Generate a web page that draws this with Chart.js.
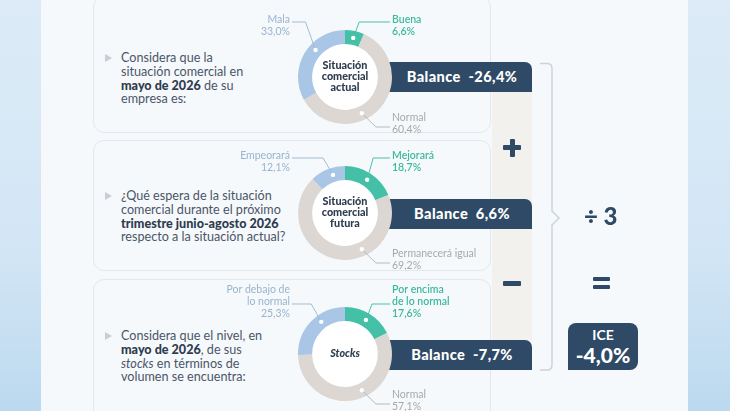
<!DOCTYPE html>
<html>
<head>
<meta charset="utf-8">
<script src="https://cdn.jsdelivr.net/npm/chart.js@4/dist/chart.umd.min.js"></script>
<style>
  html, body { margin: 0; padding: 0; }
  body { width: 730px; height: 411px; overflow: hidden; position: relative; background: #f5f9fc; font-family: 'Lato', sans-serif; }
  .side { position: absolute; top: 0; height: 411px; background: linear-gradient(180deg, #dcebf7 0%, #d3e6f5 60%, #bcd9ef 100%); }
  .card { position: absolute; left: 93px; width: 398px; border: 1px solid #e2e8ee; border-radius: 11px; background: #f6f9fc; box-sizing: border-box; }
  .strip { position: absolute; left: 492px; top: 91px; width: 40px; height: 249px; background: #f3f1ee; }
  .q { position: absolute; left: 121px; font-size: 12.6px; line-height: 13.8px; color: #4a5667; }
  .q b { color: #2f3c4e; font-weight: 900; }
  .tri { position: absolute; left: 105px; width: 0; height: 0; border-left: 7px solid #c9ced4; border-top: 4px solid transparent; border-bottom: 4px solid transparent; }
  .bal { position: absolute; left: 386px; width: 146px; height: 30px; background: #2e4a66; border-radius: 0 7px 0 0; color: #fff; font-weight: 900; font-size: 14.6px; line-height: 30px; text-align: center; padding-left: 6px; box-sizing: border-box; letter-spacing: 0.4px; white-space: pre; }
  .chart { position: absolute; left: 195px; width: 300px; height: 134px; }
  .bar { position: absolute; background: #2e4a66; border-radius: 1px; }
  .op { position: absolute; color: #2e4a66; font-weight: 900; }
  .ice { position: absolute; left: 568px; top: 323px; width: 70px; height: 47px; background: #2e4a66; border-radius: 8px 8px 8px 0; color: #fff; text-align: center; }
</style>
</head>
<body>
  <div class="side" style="left:0;width:41px"></div>
  <div class="side" style="left:688px;width:42px"></div>

  <div class="card" style="top:-4px;height:137px"></div>
  <div class="card" style="top:140px;height:131px"></div>
  <div class="card" style="top:279px;height:145px"></div>
  <div class="strip"></div>

  <div class="tri" style="top:54px"></div>
  <div class="q" style="top:51px">Considera que la<br>situación comercial en<br><b>mayo de 2026</b> de su<br>empresa es:</div>
  <div class="tri" style="top:192px"></div>
  <div class="q" style="top:189px">¿Qué espera de la situación<br>comercial durante el próximo<br><b>trimestre junio-agosto 2026</b><br>respecto a la situación actual?</div>
  <div class="tri" style="top:332px"></div>
  <div class="q" style="top:329px">Considera que el nivel, en<br><b>mayo de 2026</b>, de sus<br><i>stocks</i> en términos de<br>volumen se encuentra:</div>

  <div class="bal" id="bal0" style="top:62px"></div>
  <div class="bal" id="bal1" style="top:199px"></div>
  <div class="bal" id="bal2" style="top:340px"></div>

  <div class="chart" style="top:0px"><canvas id="c0"></canvas></div>
  <div class="chart" style="top:136px"><canvas id="c1"></canvas></div>
  <div class="chart" style="top:277px"><canvas id="c2"></canvas></div>

  <!-- plus / minus -->
  <div class="bar" style="left:503px;top:145px;width:18px;height:5px"></div>
  <div class="bar" style="left:509.5px;top:138.5px;width:5px;height:18px"></div>
  <div class="bar" style="left:503px;top:281px;width:18px;height:5px"></div>

  <svg style="position:absolute;left:0;top:0" width="730" height="411">
    <path d="M540 63.5 L547 63.5 Q552 63.5 552 68.5 L552 211 L559 218 L552 225 L552 365 Q552 370 547 370 L540 370" fill="none" stroke="#cdd3d9" stroke-width="1.5"/>
  </svg>

  <div class="op" style="left:584px;top:202px;font-size:24px;line-height:28px">÷ 3</div>
  <div class="bar" style="left:593px;top:277px;width:17px;height:4px"></div>
  <div class="bar" style="left:593px;top:285px;width:17px;height:4px"></div>

  <div class="ice">
    <div style="font-size:14px;font-weight:700;margin-top:4px;line-height:16px">ICE</div>
    <div id="iceVal" style="font-size:21px;font-weight:900;line-height:24px"></div>
  </div>

<script>
// DATA
const actualLabels = ['Buena', 'Normal', 'Mala'];
const actualValues = [6.6, 60.4, 33.0];
const futuraLabels = ['Mejorará', 'Permanecerá igual', 'Empeorará'];
const futuraValues = [18.7, 69.2, 12.1];
const stocksLabels = [['Por encima', 'de lo normal'], 'Normal', ['Por debajo de', 'lo normal']];
const stocksValues = [17.6, 57.1, 25.3];
const centerTexts = [['Situación', 'comercial', 'actual'], ['Situación', 'comercial', 'futura'], ['Stocks']];
const balances = [-26.4, 6.6, -7.7];
const iceValue = -4.0;

const segColors = ['#43c0a5', '#dcd7d3', '#a9c6e6'];
const textColors = ['#3cb99d', '#a8a8a8', '#98b3cf'];
const lineColors = ['#4cc1a8', '#b9b9b9', '#a3bbd3'];
const sides = ['tr', 'br', 'tl'];

function fmt(v) { return v.toFixed(1).replace('.', ',') + '%'; }

balances.forEach(function(b, i) {
  document.getElementById('bal' + i).textContent = 'Balance  ' + fmt(b);
});
document.getElementById('iceVal').textContent = fmt(iceValue);

const donutDeco = {
  id: 'donutDeco',
  beforeDatasetsDraw(chart) {
    const arc = chart.getDatasetMeta(0).data[0];
    const ctx = chart.ctx;
    ctx.save();
    ctx.fillStyle = '#ffffff';
    ctx.beginPath();
    ctx.arc(arc.x, arc.y, arc.innerRadius, 0, Math.PI * 2);
    ctx.fill();
    ctx.restore();
  },
  afterDatasetsDraw(chart, args, opts) {
    const ctx = chart.ctx;
    const meta = chart.getDatasetMeta(0);
    const values = chart.data.datasets[0].data;
    const labels = chart.data.labels;
    const lh = 12;
    ctx.save();
    meta.data.forEach(function(arc, i) {
      const p = arc.getProps(['x', 'y', 'startAngle', 'endAngle', 'innerRadius', 'outerRadius']);
      const side = sides[i];
      let a = (p.startAngle + p.endAngle) / 2;
      if (side === 'br') a = Math.min(Math.max(65 * Math.PI / 180, p.startAngle + 0.15), p.endAngle - 0.15);
      if (side === 'tl') a = Math.max(a, p.startAngle + (p.endAngle - p.startAngle) * 0.6);
      const r = (p.innerRadius + p.outerRadius) / 2;
      const dx = p.x + r * Math.cos(a);
      const dy = p.y + r * Math.sin(a);
      const lines = [].concat(labels[i], fmt(values[i]));
      let ys = [], ex, ey, tx, endX;
      if (side === 'br') {
        lines.forEach(function(l, k) { ys.push(p.y + 41 + k * lh); });
        ex = dx + 14; ey = p.y + 50; tx = p.x + 47; endX = p.x + 45;
      } else {
        const last = p.y + opts.topOffset;
        lines.forEach(function(l, k) { ys.push(last - (lines.length - 1 - k) * lh); });
        ey = last - 10;
        if (side === 'tr') { ex = dx + 6; tx = p.x + 47; endX = p.x + 45; }
        else { ex = dx - 10; tx = p.x - 55; endX = p.x - 53; }
      }
      // leader line
      ctx.strokeStyle = lineColors[i];
      ctx.lineWidth = 1;
      ctx.beginPath();
      ctx.moveTo(dx, dy);
      ctx.lineTo(ex, ey);
      ctx.lineTo(endX, ey);
      ctx.stroke();
      // dot
      ctx.fillStyle = '#ffffff';
      ctx.beginPath();
      ctx.arc(dx, dy, 2.2, 0, Math.PI * 2);
      ctx.fill();
      // label
      ctx.fillStyle = textColors[i];
      ctx.font = (i === 0 ? '600 ' : '400 ') + '10.5px Lato';
      ctx.textBaseline = 'middle';
      ctx.textAlign = side === 'tl' ? 'right' : 'left';
      lines.forEach(function(l, k) { ctx.fillText(l, tx, ys[k]); });
    });
    // center text
    const c = meta.data[0];
    const ct = opts.center;
    ctx.fillStyle = '#2f3d4f';
    ctx.textAlign = 'center';
    ctx.textBaseline = 'middle';
    ctx.font = (ct.length === 1 ? 'italic ' : '') + '900 10.8px Lato';
    ct.forEach(function(t, k) {
      ctx.fillText(t, c.x, c.y + (k - (ct.length - 1) / 2) * 11);
    });
    ctx.restore();
  }
};

function makeDonut(id, labels, values, center, topOffset) {
  new Chart(document.getElementById(id), {
    type: 'doughnut',
    data: {
      labels: labels,
      datasets: [{
        data: values,
        backgroundColor: segColors,
        borderWidth: 0
      }]
    },
    options: {
      responsive: true,
      maintainAspectRatio: false,
      animation: false,
      events: [],
      cutout: '70%',
      layout: { padding: { left: 103, right: 103, top: 30, bottom: 10 } },
      plugins: {
        legend: { display: false },
        tooltip: { enabled: false },
        donutDeco: { center: center, topOffset: topOffset }
      }
    },
    plugins: [donutDeco]
  });
}

makeDonut('c0', actualLabels, actualValues, centerTexts[0], -45);
makeDonut('c1', futuraLabels, futuraValues, centerTexts[1], -45);
makeDonut('c2', stocksLabels, stocksValues, centerTexts[2], -40);
</script>
</body>
</html>
